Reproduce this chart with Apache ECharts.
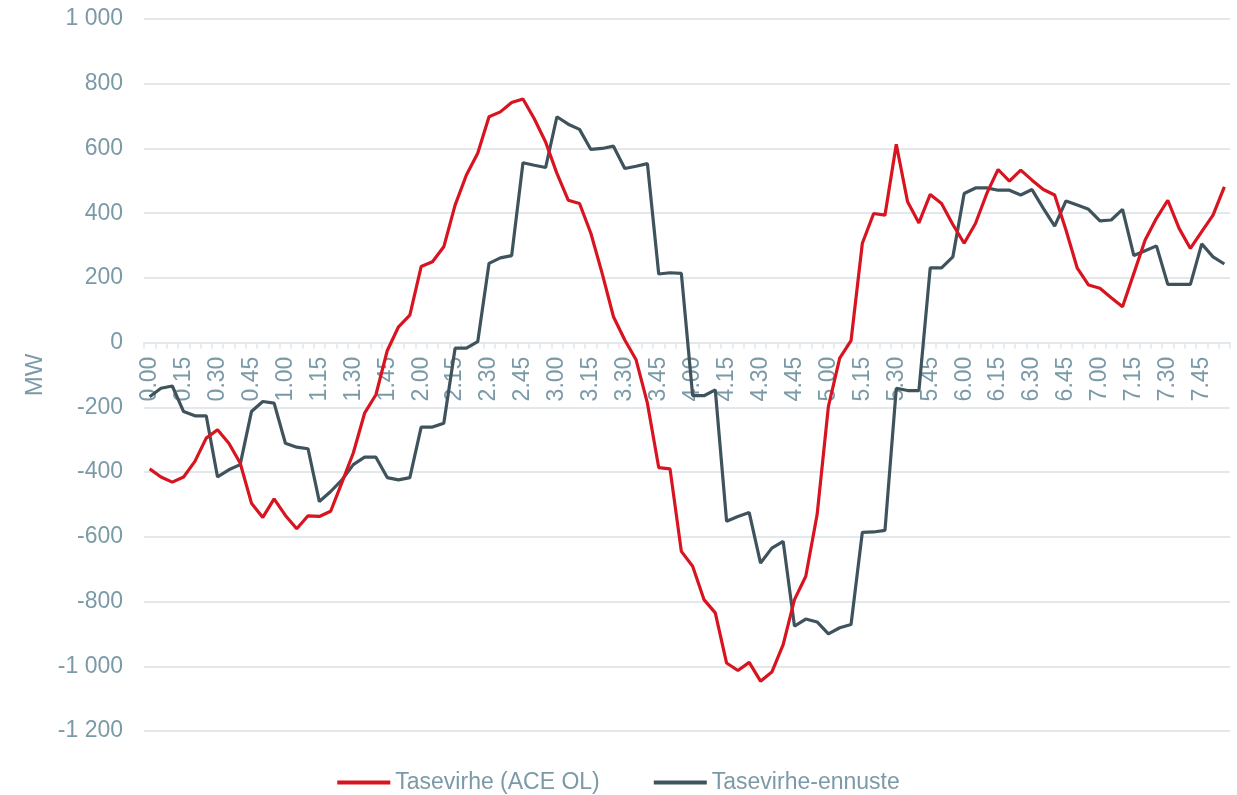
<!DOCTYPE html>
<html>
<head>
<meta charset="utf-8">
<title>Tasevirhe</title>
<script src="https://cdn.jsdelivr.net/npm/echarts@6/dist/echarts.min.js"></script>
<style>
  html, body { margin: 0; padding: 0; background: #fff; }
  #chart { width: 1237px; height: 795px; }
</style>
</head>
<body>
<div id="chart"></div>
<script>
// 5 min steps 0.00 ... 7.55
const times = [
  '0.00', '0.05', '0.10', '0.15', '0.20', '0.25', '0.30', '0.35', '0.40', '0.45', '0.50', '0.55',
  '1.00', '1.05', '1.10', '1.15', '1.20', '1.25', '1.30', '1.35', '1.40', '1.45', '1.50', '1.55',
  '2.00', '2.05', '2.10', '2.15', '2.20', '2.25', '2.30', '2.35', '2.40', '2.45', '2.50', '2.55',
  '3.00', '3.05', '3.10', '3.15', '3.20', '3.25', '3.30', '3.35', '3.40', '3.45', '3.50', '3.55',
  '4.00', '4.05', '4.10', '4.15', '4.20', '4.25', '4.30', '4.35', '4.40', '4.45', '4.50', '4.55',
  '5.00', '5.05', '5.10', '5.15', '5.20', '5.25', '5.30', '5.35', '5.40', '5.45', '5.50', '5.55',
  '6.00', '6.05', '6.10', '6.15', '6.20', '6.25', '6.30', '6.35', '6.40', '6.45', '6.50', '6.55',
  '7.00', '7.05', '7.10', '7.15', '7.20', '7.25', '7.30', '7.35', '7.40', '7.45', '7.50', '7.55'
]

// Tasevirhe (ACE OL), MW
const aceOl = [
  -390, -415, -431, -415, -367, -295, -269, -311, -372, -496, -540, -483,
  -534, -575, -535, -537, -521, -432, -341, -218, -161, -25, 49, 85,
  235, 250, 296, 425, 518, 585, 698, 713, 742, 753, 692, 620,
  523, 440, 430, 338, 214, 80, 8, -53, -187, -386, -390, -645,
  -691, -794, -835, -990, -1013, -988, -1046, -1018, -933, -794, -722, -532,
  -197, -48, 6, 307, 399, 394, 613, 435, 370, 458, 430, 365,
  307, 368, 461, 535, 499, 533, 502, 473, 456, 348, 230, 178,
  168, 139, 111, 214, 317, 384, 440, 353, 291, 343, 394, 481
]

// Tasevirhe-ennuste, MW
const ennuste = [
  -167, -141, -134, -213, -226, -226, -415, -393, -377, -213, -182, -187,
  -311, -323, -328, -491, -460, -424, -377, -354, -354, -417, -424, -417,
  -261, -261, -249, -17, -17, 3, 245, 262, 269, 556, 548, 541,
  698, 675, 659, 597, 600, 607, 538, 545, 553, 212, 216, 214,
  -164, -164, -146, -552, -537, -525, -681, -635, -614, -876, -854, -863,
  -900, -881, -871, -586, -585, -580, -141, -148, -148, 231, 231, 265,
  461, 478, 478, 471, 471, 456, 473, 415, 360, 438, 425, 412,
  376, 379, 412, 269, 284, 299, 180, 180, 180, 305, 265, 243
]

const seriesNames = ['Tasevirhe (ACE OL)', 'Tasevirhe-ennuste']

const yMin = -1200
const yMax = 1000

const textColor = '#7b9aa8'
const gridColor = '#e3e8ec'
const fontFamily = '"Liberation Sans", Arial, sans-serif'

const gridTop = 19
const gridBottom = 64
const plotHeight = 795 - gridTop - gridBottom
// lift the category axis (line, ticks, labels) up to the zero line
const zeroOffset = -plotHeight * (0 - yMin) / (yMax - yMin)

const chart = echarts.init(document.getElementById('chart'))

chart.setOption({
  animation: false,
  color: ['#d7141f', '#3f535d'],
  textStyle: { fontFamily: fontFamily },
  grid: {
    left: 144,
    right: 7,
    top: gridTop,
    bottom: gridBottom,
    containLabel: false
  },
  legend: {
    data: seriesNames,
    left: 'center',
    top: 766,
    icon: 'rect',
    itemWidth: 53,
    itemHeight: 4,
    itemGap: 54,
    textStyle: {
      color: textColor,
      fontSize: 23,
      fontFamily: fontFamily
    }
  },
  xAxis: {
    type: 'category',
    data: times,
    boundaryGap: true,
    position: 'bottom',
    offset: zeroOffset,
    axisLine: {
      onZero: false,
      lineStyle: { color: gridColor, width: 2 }
    },
    axisTick: {
      show: true,
      interval: 0,
      length: 6,
      lineStyle: { color: gridColor, width: 1.5 }
    },
    axisLabel: {
      interval: 2,
      rotate: 90,
      margin: 14,
      color: textColor,
      fontSize: 23,
      fontFamily: fontFamily
    },
    splitLine: { show: false }
  },
  yAxis: {
    type: 'value',
    min: yMin,
    max: yMax,
    interval: 200,
    name: 'MW',
    nameLocation: 'middle',
    nameGap: 94,
    nameTextStyle: {
      color: textColor,
      fontSize: 24,
      fontFamily: fontFamily
    },
    axisLine: { show: false },
    axisTick: { show: false },
    axisLabel: {
      margin: 21,
      color: textColor,
      fontSize: 23,
      fontFamily: fontFamily,
      formatter: function (v) {
        const s = String(Math.abs(v)).replace(/\B(?=(\d{3})+(?!\d))/g, ' ')
        return (v < 0 ? '-' : '') + s
      }
    },
    splitLine: {
      lineStyle: { color: gridColor, width: 2 }
    }
  },
  series: [
    {
      name: seriesNames[0],
      type: 'line',
      data: aceOl,
      showSymbol: false,
      symbol: 'none',
      z: 3,
      lineStyle: { width: 3.2 }
    },
    {
      name: seriesNames[1],
      type: 'line',
      data: ennuste,
      showSymbol: false,
      symbol: 'none',
      z: 2,
      lineStyle: { width: 3.2 }
    }
  ]
})
</script>
</body>
</html>
